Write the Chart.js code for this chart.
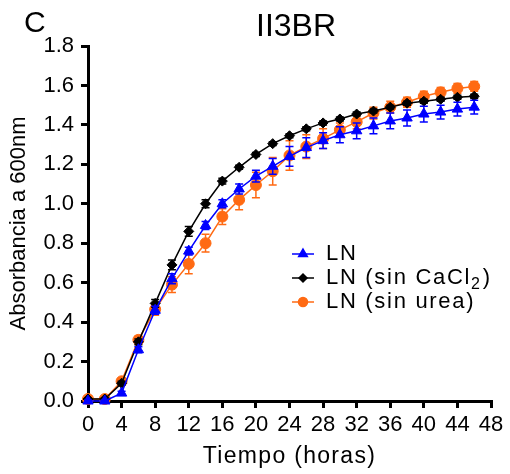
<!DOCTYPE html>
<html>
<head>
<meta charset="utf-8">
<script src="https://cdn.jsdelivr.net/npm/chart.js@4"></script>
<style>
  body { margin: 0; background: #fff; }
  #wrap { width: 510px; height: 474px; }
</style>
</head>
<body>
<div id="wrap"><canvas id="grafico" width="510" height="474"></canvas></div>
<script>
// tiempo en horas
const tiempos = [0,2,4,6,8,10,12,14,16,18,20,22,24,26,28,30,32,34,36,38,40,42,44,46];
// absorbancia 600nm
const ln =        [0.00,0.00,0.04,0.26,0.46,0.62,0.76,0.89,1.00,1.075,1.14,1.19,1.24,1.285,1.32,1.35,1.37,1.395,1.42,1.435,1.455,1.465,1.48,1.49];
const lnSinCa =   [0.01,0.01,0.09,0.30,0.495,0.69,0.86,1.00,1.115,1.185,1.25,1.305,1.345,1.38,1.41,1.43,1.455,1.47,1.49,1.51,1.52,1.53,1.54,1.545];
const lnSinUrea = [0.01,0.01,0.10,0.31,0.465,0.59,0.695,0.80,0.935,1.02,1.095,1.165,1.245,1.29,1.33,1.375,1.415,1.46,1.49,1.515,1.545,1.565,1.585,1.595];
// desviaciones
const errLn =        [0.005,0.005,0.01,0.015,0.02,0.025,0.02,0.02,0.02,0.025,0.03,0.04,0.05,0.05,0.04,0.04,0.04,0.04,0.04,0.04,0.04,0.035,0.035,0.035];
const errSinCa =     [0.005,0.005,0.01,0.015,0.02,0.025,0.025,0.02,0.015,0.01,0.01,0.01,0.01,0.01,0.01,0.01,0.01,0.01,0.01,0.01,0.01,0.01,0.01,0.01];
const errSinUrea =   [0.005,0.005,0.015,0.02,0.03,0.04,0.05,0.045,0.04,0.05,0.065,0.07,0.075,0.06,0.05,0.035,0.035,0.03,0.03,0.025,0.025,0.025,0.025,0.025];

const ticksX = [0,4,8,12,16,20,24,28,32,36,40,44,48];
const ticksY = [0,0.2,0.4,0.6,0.8,1.0,1.2,1.4,1.6,1.8];

const AZUL = '#0000ff', NEGRO = '#000000', NARANJA = '#ff6a13';
const FUENTE = 'Liberation Sans, Arial, sans-serif';

const errores = [errLn, errSinCa, errSinUrea];

const serie = (label, vals, color, estilo, radio) => ({
  label: label,
  data: tiempos.map((t, i) => ({x: t, y: vals[i]})),
  borderColor: color,
  backgroundColor: color,
  borderWidth: 1.5,
  pointStyle: estilo,
  pointRadius: radio,
  pointBorderWidth: 1,
  pointBackgroundColor: color,
  pointBorderColor: color,
  clip: false
});

const barrasError = {
  id: 'barrasError',
  beforeDatasetDraw(chart, args) {
    const ctx = chart.ctx;
    const xs = chart.scales.x, ys = chart.scales.y;
    const ds = chart.data.datasets[args.index];
    const err = errores[args.index];
    ctx.save();
    ctx.strokeStyle = ds.borderColor;
    ctx.lineWidth = 1.5;
    ds.data.forEach((p, i) => {
      const px = xs.getPixelForValue(p.x);
      const y1 = ys.getPixelForValue(p.y + err[i]);
      const y2 = ys.getPixelForValue(p.y - err[i]);
      ctx.beginPath();
      ctx.moveTo(px, y1); ctx.lineTo(px, y2);
      ctx.moveTo(px - 4, y1); ctx.lineTo(px + 4, y1);
      ctx.moveTo(px - 4, y2); ctx.lineTo(px + 4, y2);
      ctx.stroke();
    });
    ctx.restore();
  }
};

const textos = {
  id: 'textos',
  afterDraw(chart) {
    const ctx = chart.ctx;
    const area = chart.chartArea;
    ctx.save();
    ctx.fillStyle = '#000';
    ctx.textBaseline = 'alphabetic';
    ctx.font = '30px ' + FUENTE;
    ctx.textAlign = 'left';
    ctx.fillText('C', 24, 32);
    ctx.font = '32px ' + FUENTE;
    ctx.textAlign = 'center';
    ctx.fillText('II3BR', 296, 36);

    // titulo eje x (letras separadas como en la figura)
    ctx.font = '23px ' + FUENTE;
    ctx.letterSpacing = '1.3px';
    ctx.fillText('Tiempo (horas)', (area.left + area.right) / 2, 463);

    // leyenda
    const filas = [
      {color: AZUL, estilo: 'triangle', radio: 5, y: 254},
      {color: NEGRO, estilo: 'rectRot', radio: 4, y: 278},
      {color: NARANJA, estilo: 'circle', radio: 4.5, y: 302}
    ];
    filas.forEach(f => {
      ctx.strokeStyle = f.color;
      ctx.fillStyle = f.color;
      ctx.lineWidth = 1.5;
      ctx.beginPath();
      ctx.moveTo(292, f.y); ctx.lineTo(314, f.y);
      ctx.stroke();
      Chart.helpers.drawPoint(ctx, {pointStyle: f.estilo, radius: f.radio, borderWidth: 1}, 303, f.y);
    });
    ctx.fillStyle = '#000';
    ctx.textAlign = 'left';
    ctx.textBaseline = 'middle';
    ctx.letterSpacing = '1.7px';
    ctx.font = '22px ' + FUENTE;
    ctx.fillText('LN', 326, filas[0].y);
    let x = 326;
    const t1 = 'LN (sin CaCl';
    ctx.fillText(t1, x, filas[1].y);
    x += ctx.measureText(t1).width;
    ctx.font = '16px ' + FUENTE;
    ctx.fillText('2', x, filas[1].y + 7);
    x += ctx.measureText('2').width + 1;
    ctx.font = '22px ' + FUENTE;
    ctx.fillText(')', x, filas[1].y);
    ctx.fillText('LN (sin urea)', 326, filas[2].y);
    ctx.restore();
  }
};

const ctx = document.getElementById('grafico');
new Chart(ctx, {
  type: 'line',
  data: {
    datasets: [
      serie('LN', ln, AZUL, 'triangle', 6),
      serie('LN (sin CaCl2)', lnSinCa, NEGRO, 'rectRot', 5),
      serie('LN (sin urea)', lnSinUrea, NARANJA, 'circle', 5.5)
    ]
  },
  options: {
    responsive: false,
    animation: false,
    layout: { padding: { top: 46, right: 19, bottom: 0, left: 0 } },
    plugins: {
      legend: { display: false },
      tooltip: { enabled: false }
    },
    scales: {
      x: {
        type: 'linear',
        min: 0,
        max: 48,
        afterBuildTicks: (s) => { s.ticks = ticksX.map(v => ({value: v})); },
        afterFit: (s) => { s.height = 73; },
        border: { color: '#000', width: 3 },
        grid: { drawOnChartArea: false, color: '#000', lineWidth: 3, tickLength: 7 },
        ticks: { color: '#000', padding: 4, maxRotation: 0, autoSkip: false, font: { family: FUENTE, size: 22 } },
        title: { display: false, text: 'Tiempo (horas)' }
      },
      y: {
        min: 0,
        max: 1.8,
        afterBuildTicks: (s) => { s.ticks = ticksY.map(v => ({value: v})); },
        afterFit: (s) => { s.width = 88; },
        border: { color: '#000', width: 3 },
        grid: { drawOnChartArea: false, color: '#000', lineWidth: 3, tickLength: 7 },
        ticks: { color: '#000', padding: 7, font: { family: FUENTE, size: 22 }, callback: (v) => Number(v).toFixed(1) },
        title: { display: true, text: 'Absorbancia a 600nm', color: '#000', padding: { top: 6, bottom: 0 }, font: { family: FUENTE, size: 22 } }
      }
    }
  },
  plugins: [barrasError, textos]
});
</script>
</body>
</html>
